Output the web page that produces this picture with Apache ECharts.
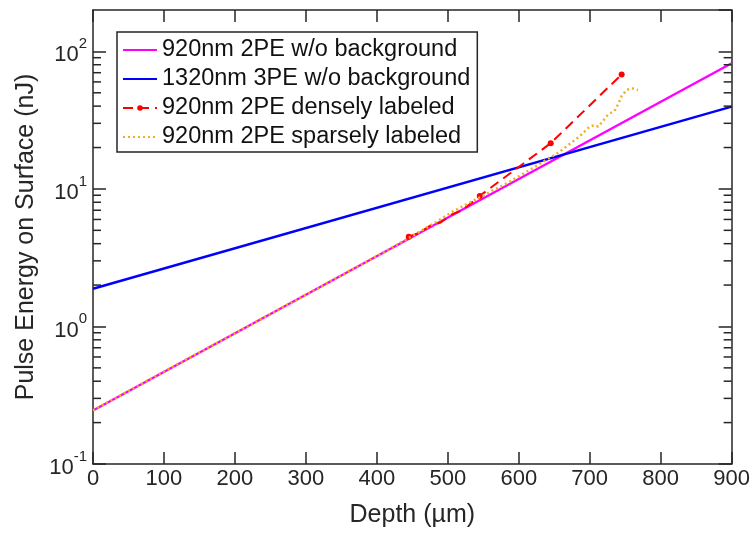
<!DOCTYPE html>
<html>
<head>
<meta charset="utf-8">
<script src="https://cdn.jsdelivr.net/npm/echarts@6/dist/echarts.min.js"></script>
<style>
html,body{margin:0;padding:0;background:#fff;}
#chart{width:753px;height:533px;}
</style>
</head>
<body>
<div id="chart"></div>
<script>
// ---- data ----
const xTickValues = [0, 100, 200, 300, 400, 500, 600, 700, 800, 900];
const yMajorTicks = [0.1, 1, 10, 100];
const yMinorTicks = [0.2,0.3,0.4,0.5,0.6,0.7,0.8,0.9, 2,3,4,5,6,7,8,9, 20,30,40,50,60,70,80,90];

const seriesNames = ['920nm 2PE w/o background', '1320nm 3PE w/o background', '920nm 2PE densely labeled', '920nm 2PE sparsely labeled'];

const magentaDepth = [0, 900];
const magentaEnergy = [0.245, 82];

const blueDepth = [0, 900];
const blueEnergy = [1.88, 39.7];

const redDepth  = [445, 460, 475, 490, 505, 520, 533, 545, 645, 745];
const redEnergy = [4.5, 4.8, 5.4, 5.7, 6.5, 7.0, 7.9, 8.9, 21.5, 68];
const redMarked = [true, false, false, false, false, false, false, true, true, true];

const orangeDepth  = [0, 100, 200, 300, 400, 445, 475, 506, 545, 586, 620, 656, 684, 700, 707, 712, 719, 726, 735, 740, 745, 752, 759, 768];
const orangeEnergy = [0.245, 0.47, 0.89, 1.70, 3.25, 4.4, 5.4, 6.8, 8.7, 11.2, 14.2, 18.4, 23.7, 28.4, 29.1, 28.4, 31.3, 34.9, 36.9, 41.3, 47.4, 52.4, 54, 52.4];

// ---- chart ----
const AX = '#262626';
const FONT = 'Liberation Sans, Arial, sans-serif';
const pair = (xs, ys) => xs.map((x, i) => [x, ys[i]]);

const chart = echarts.init(document.getElementById('chart'), null, {renderer: 'canvas'});

const xAxisBase = {
  type: 'value', min: 0, max: 900, interval: 100,
  axisLine: {show: true, onZero: false, lineStyle: {color: AX, width: 1.5}},
  axisTick: {show: true, inside: true, length: 12, lineStyle: {color: AX, width: 1.5}},
  splitLine: {show: false}
};
const yAxisBase = {
  type: 'log', logBase: 10, min: 0.1, max: 200,
  axisLine: {show: true, onZero: false, lineStyle: {color: AX, width: 1.5}},
  axisTick: {show: true, inside: true, length: 13, lineStyle: {color: AX, width: 1.5}},
  splitLine: {show: false}
};

const hideSym = {opacity: 0};

const option = {
  animation: false,
  backgroundColor: '#fff',
  grid: {left: 93, right: 19, top: 10, bottom: 67, containLabel: false},
  legend: {
    data: [
      {name: seriesNames[0], itemStyle: hideSym},
      {name: seriesNames[1], itemStyle: hideSym},
      {name: seriesNames[2]},
      {name: seriesNames[3], itemStyle: hideSym}
    ],
    orient: 'vertical',
    left: 117, top: 32,
    padding: [6, 7, 3, 5],
    itemWidth: 34, itemHeight: 7, itemGap: 5,
    backgroundColor: '#fff',
    borderColor: AX, borderWidth: 1.5,
    textStyle: {fontFamily: FONT, fontSize: 23.5, color: '#111', lineHeight: 22}
  },
  xAxis: [
    Object.assign({}, xAxisBase, {
      position: 'bottom',
      axisLabel: {fontFamily: FONT, fontSize: 22, color: AX, margin: 4},
      name: 'Depth (µm)', nameLocation: 'middle', nameGap: 39,
      nameTextStyle: {fontFamily: FONT, fontSize: 25, color: AX}
    }),
    Object.assign({}, xAxisBase, {position: 'top', axisLabel: {show: false}})
  ],
  yAxis: [
    Object.assign({}, yAxisBase, {
      position: 'left',
      axisLabel: {
        margin: 6,
        showMaxLabel: false,
        fontFamily: FONT, color: AX,
        formatter: function (v) {
          const e = Math.log10(v), r = Math.round(e);
          if (Math.abs(e - r) > 1e-6) return '';
          return '{m|10}{s|' + r + '}';
        },
        rich: {
          m: {fontSize: 22, color: AX, padding: [8, 0, 0, 0], fontFamily: FONT},
          s: {fontSize: 15, color: AX, padding: [0, 0, 15, 0], fontFamily: FONT}
        }
      },
      name: 'Pulse Energy on Surface (nJ)', nameLocation: 'middle', nameGap: 54,
      nameTextStyle: {fontFamily: FONT, fontSize: 25, color: AX}
    }),
    Object.assign({}, yAxisBase, {position: 'right', axisLabel: {show: false}})
  ],
  series: [
    {
      name: seriesNames[0], type: 'line', xAxisIndex: 0, yAxisIndex: 0,
      data: pair(magentaDepth, magentaEnergy),
      showSymbol: false, symbol: 'none', color: '#FF00FF',
      lineStyle: {color: '#FF00FF', width: 2.5}, z: 3
    },
    {
      name: seriesNames[1], type: 'line', xAxisIndex: 0, yAxisIndex: 0,
      data: pair(blueDepth, blueEnergy),
      showSymbol: false, symbol: 'none', color: '#0000FF',
      lineStyle: {color: '#0000FF', width: 2.5}, z: 3
    },
    {
      name: seriesNames[2], type: 'line', xAxisIndex: 0, yAxisIndex: 0,
      data: redDepth.map((x, i) => ({value: [x, redEnergy[i]], symbol: redMarked[i] ? 'circle' : 'none'})),
      symbol: 'circle', symbolSize: 6, color: '#FF0000',
      itemStyle: {color: '#FF0000'},
      lineStyle: {color: '#FF0000', width: 2, type: [10, 6]}, z: 4
    },
    {
      name: seriesNames[3], type: 'line', xAxisIndex: 0, yAxisIndex: 0,
      data: pair(orangeDepth, orangeEnergy),
      showSymbol: false, symbol: 'none', color: '#EDB120',
      lineStyle: {color: '#EDB120', width: 2.5, type: [2, 3]}, z: 5
    },
    {
      name: 'minorTicks', type: 'custom', xAxisIndex: 0, yAxisIndex: 0,
      data: yMinorTicks.map(v => [0, v]),
      silent: true, z: 10, clip: false,
      renderItem: function (params, api) {
        const v = api.value(1);
        const pL = api.coord([0, v]);
        const pR = api.coord([900, v]);
        const st = {stroke: AX, lineWidth: 1.5};
        return {type: 'group', children: [
          {type: 'line', shape: {x1: pL[0], y1: pL[1], x2: pL[0] + 8, y2: pL[1]}, style: st},
          {type: 'line', shape: {x1: pR[0], y1: pR[1], x2: pR[0] - 8, y2: pR[1]}, style: st}
        ]};
      }
    }
  ]
};
chart.setOption(option);
</script>
</body>
</html>
